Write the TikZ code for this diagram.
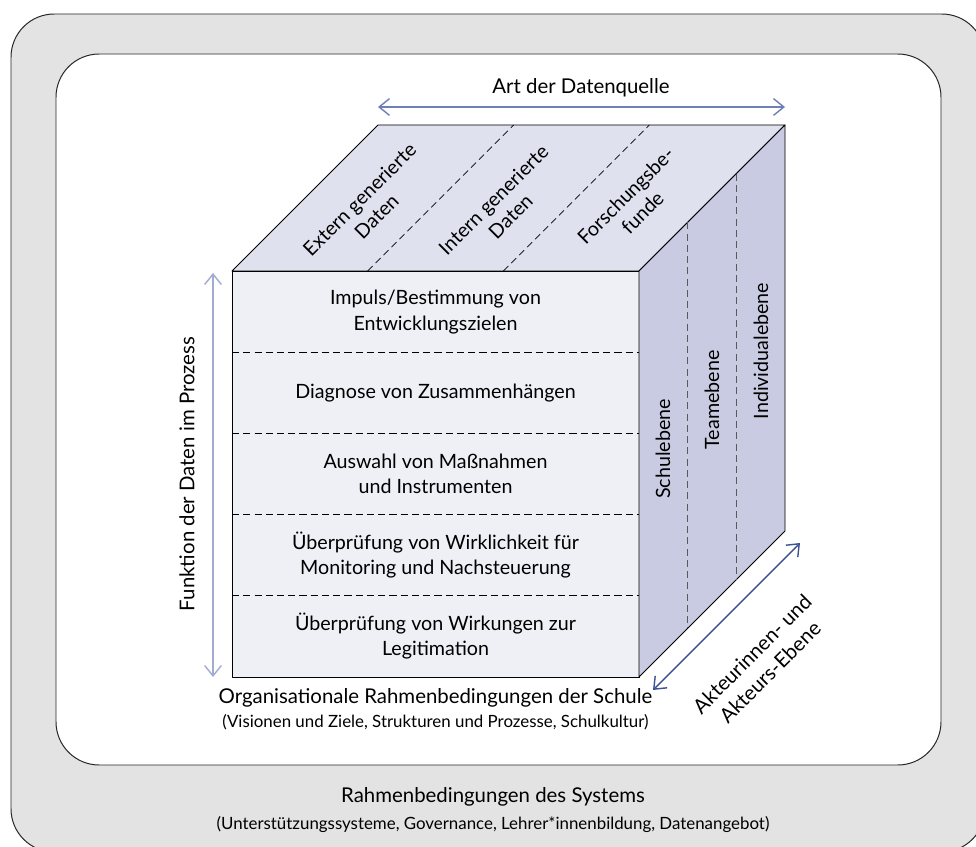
\documentclass[tikz,border=0pt]{standalone}
\usepackage{fontspec}
\setmainfont{Lato}
\usetikzlibrary{arrows.meta, positioning, calc}

\definecolor{framegray}{HTML}{E3E3E3}
\definecolor{frontface}{HTML}{EFF0F5}
\definecolor{topface}{HTML}{E0E1EE}
\definecolor{sideface}{HTML}{C9CBE2}
\definecolor{axisblue}{HTML}{6F7FB8}
\definecolor{axislight}{HTML}{A3ACD0}
\definecolor{axisdark}{HTML}{3D5196}

\begin{document}
\begin{tikzpicture}[x=0.025cm, y=-0.025cm,
  frame/.style={draw=black!85, line width=0.7pt, rounded corners=1.08cm},
  face/.style={draw=black, line width=0.6pt, line join=round},
  divider/.style={dashed, dash pattern=on 5pt off 3pt, line width=0.5pt},
  sidedivider/.style={divider, draw=black!65},
  rowlabel/.style={font=\fontsize{14}{18}\selectfont, align=center},
  toplabel/.style={font=\fontsize{14}{17}\selectfont, align=center, rotate=45},
  sidelabel/.style={font=\fontsize{14}{17}\selectfont, rotate=90},
  axislabel/.style={font=\fontsize{14.5}{18}\selectfont, align=center},
  smalltext/.style={font=\fontsize{12}{14}\selectfont},
  axisarrow/.style={{Straight Barb[length=2.6mm, width=4.2mm]}-{Straight Barb[length=2.6mm, width=4.2mm]}, line width=1pt}
]
\useasboundingbox (0,0) rectangle (976,847);
\clip (0,0) rectangle (976,847);

% frames
\draw[frame, fill=framegray] (11,14) rectangle (985,852);
\draw[frame, fill=white] (56,54) rectangle (941,765);

% cube corners
\coordinate (ftl) at (232,271);
\coordinate (ftr) at (639,271);
\coordinate (fbl) at (232,677);
\coordinate (fbr) at (639,677);
\coordinate (btl) at (378,125);
\coordinate (btr) at (785,125);
\coordinate (bbr) at (785,531);

% faces
\draw[face, fill=frontface] (ftl) rectangle (fbr);
\draw[face, fill=topface] (ftl) -- (btl) -- (btr) -- (ftr) -- cycle;
\draw[face, fill=sideface] (ftr) -- (btr) -- (bbr) -- (fbr) -- cycle;

% dividers
\foreach \i in {1,2,3,4}
  \draw[divider] ($(ftl)!\i/5!(fbl)$) -- ($(ftr)!\i/5!(fbr)$);
\foreach \i in {1,2}
  \draw[divider] ($(ftl)!\i/3!(ftr)$) -- ($(btl)!\i/3!(btr)$);
\foreach \i in {1,2}
  \draw[sidedivider] ($(ftr)!\i/3!(btr)$) -- ($(fbr)!\i/3!(bbr)$);

% front face rows
\node[rowlabel] (impuls) at (435.5,312) {Impuls/Bestimmung von\\Entwicklungszielen};
\node[rowlabel] (diagnose) at (435.5,393) {Diagnose von Zusammenhängen};
\node[rowlabel] (auswahl) at (435.5,474) {Auswahl von Maßnahmen\\und Instrumenten};
\node[rowlabel] (wirklichkeit) at (435.5,555) {Überprüfung von Wirklichkeit für\\Monitoring und Nachsteuerung};
\node[rowlabel] (wirkungen) at (435.5,636) {Überprüfung von Wirkungen zur\\Legitimation};

% top face
\node[toplabel] (extern) at (368,208) {Extern generierte\\Daten};
\node[toplabel] (intern) at (502,208) {Intern generierte\\Daten};
\node[toplabel] (forschung) at (634,204) {Forschungsbe-\\funde};

% side face
\node[sidelabel] (schule) at (663,449) {Schulebene};
\node[sidelabel] (team) at (712,400) {Teamebene};
\node[sidelabel] (individual) at (761,351) {Individualebene};

% axes
\coordinate (artl) at (378,107);
\coordinate (artr) at (785,107);
\draw[axisarrow, axisblue] (artl) -- (artr);
\node[axislabel] (art) at (581,88) {Art der Datenquelle};

\coordinate (funt) at (213,273);
\coordinate (funb) at (213,677);
\draw[axisarrow, axislight] (funt) -- (funb);
\node[axislabel, rotate=90] (funktion) at (187,474) {Funktion der Daten im Prozess};

\coordinate (aktl) at (653,690);
\coordinate (aktr) at (800,543);
\draw[axisarrow, axisdark] (aktl) -- (aktr);
\node[axislabel, rotate=45] (akteur) at (761,663) {Akteurinnen- und\\Akteurs-Ebene};

% conditions
\node[axislabel] (orga) at (435.5,698) {Organisationale Rahmenbedingungen der Schule};
\node[smalltext] (orgadetail) at (435.5,722) {(Visionen und Ziele, Strukturen und Prozesse, Schulkultur)};
\node[axislabel] (system) at (493,797) {Rahmenbedingungen des Systems};
\node[smalltext] (systemdetail) at (493,824) {(Unterstützungssysteme, Governance, Lehrer*innenbildung, Datenangebot)};
\end{tikzpicture}
\end{document}
